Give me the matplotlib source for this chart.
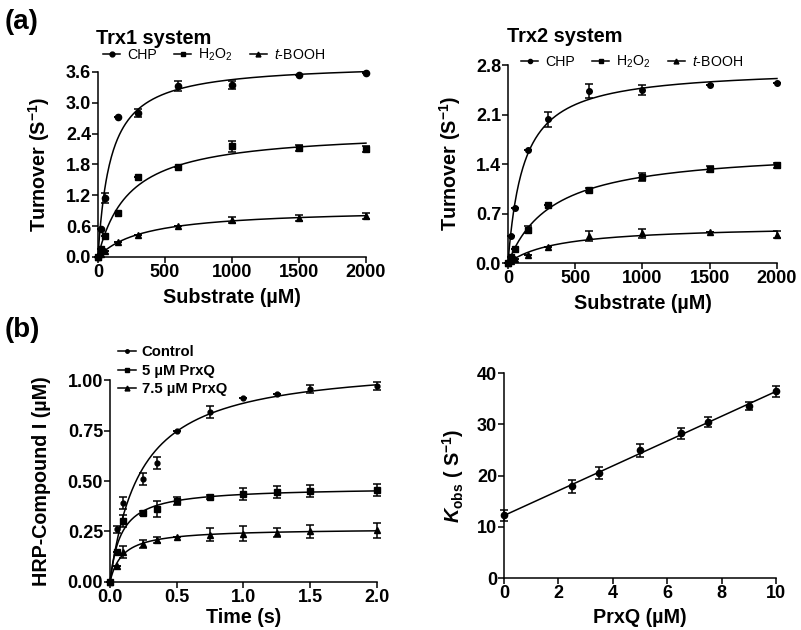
import numpy as np
import matplotlib
matplotlib.use("Agg")
import matplotlib.pyplot as plt

plt.rcParams['font.family'] = ['Liberation Sans', 'DejaVu Sans']
plt.rcParams['mathtext.fontset'] = 'custom'
plt.rcParams['mathtext.rm'] = 'Liberation Sans'
plt.rcParams['mathtext.it'] = 'Liberation Sans:italic'
plt.rcParams['mathtext.bf'] = 'Liberation Sans:bold'
plt.rcParams['mathtext.bfit'] = 'Liberation Sans:bold:italic'

# ---------------- data ----------------
substrate = [0, 25, 50, 150, 300, 600, 1000, 1500, 2000]

trx1_chp = [0.0, 0.55, 1.15, 2.72, 2.80, 3.32, 3.35, 3.55, 3.57]
trx1_chp_err = [0, 0, 0.10, 0, 0.08, 0.10, 0.08, 0, 0]
trx1_h2o2 = [0.0, 0.15, 0.40, 0.85, 1.55, 1.75, 2.15, 2.12, 2.10]
trx1_h2o2_err = [0, 0, 0, 0, 0, 0, 0.10, 0.05, 0.05]
trx1_tbooh = [0.0, 0.06, 0.12, 0.30, 0.42, 0.60, 0.72, 0.76, 0.80]
trx1_tbooh_err = [0, 0, 0, 0, 0, 0, 0.05, 0.06, 0.06]

trx2_chp = [0.0, 0.38, 0.78, 1.60, 2.03, 2.43, 2.45, 2.52, 2.55]
trx2_chp_err = [0, 0, 0, 0, 0.10, 0.10, 0.07, 0, 0]
trx2_h2o2 = [0.0, 0.08, 0.20, 0.47, 0.82, 1.03, 1.22, 1.33, 1.38]
trx2_h2o2_err = [0, 0, 0, 0.05, 0, 0.03, 0.06, 0.04, 0.04]
trx2_tbooh = [0.0, 0.03, 0.05, 0.12, 0.22, 0.38, 0.42, 0.44, 0.40]
trx2_tbooh_err = [0, 0, 0, 0, 0, 0.07, 0.06, 0, 0.05]

time_s = [0, 0.05, 0.1, 0.25, 0.35, 0.5, 0.75, 1.0, 1.25, 1.5, 2.0]
control = [0.0, 0.26, 0.39, 0.51, 0.59, 0.75, 0.84, 0.91, 0.93, 0.955, 0.97]
control_err = [0, 0.015, 0.03, 0.03, 0.03, 0, 0.03, 0, 0, 0.02, 0.02]
prxq5 = [0.0, 0.15, 0.30, 0.34, 0.36, 0.40, 0.42, 0.435, 0.445, 0.45, 0.455]
prxq5_err = [0, 0, 0.03, 0.01, 0.04, 0.02, 0.01, 0.03, 0.03, 0.03, 0.03]
prxq75 = [0.0, 0.08, 0.15, 0.19, 0.21, 0.225, 0.235, 0.24, 0.245, 0.25, 0.255]
prxq75_err = [0, 0, 0.03, 0.02, 0.015, 0, 0.03, 0.035, 0.02, 0.03, 0.035]

prxq_conc = [0, 2.5, 3.5, 5, 6.5, 7.5, 9, 10]
kobs = [12.2, 17.9, 20.5, 24.9, 28.2, 30.4, 33.6, 36.4]
kobs_err = [1.0, 1.3, 1.1, 1.2, 1.0, 1.0, 0.8, 1.0]


def hyperbola_fit(x, y):
    x = np.asarray(x, float); y = np.asarray(y, float)
    best = None
    for K in np.linspace(0.001 * x.max(), 2 * x.max(), 4000):
        f = x / (K + x)
        V = np.dot(f, y) / np.dot(f, f)
        r = np.sum((y - V * f) ** 2)
        if best is None or r < best[0]:
            best = (r, V, K)
    return best[1], best[2]


fig = plt.figure(figsize=(8.01, 6.30), dpi=100)

TICK_FS = 13
LAB_FS = 14.2
LW = 1.1


def style(ax):
    for s in ['top', 'right']:
        ax.spines[s].set_visible(False)
    for s in ['left', 'bottom']:
        ax.spines[s].set_linewidth(LW)
    ax.tick_params(direction='out', length=4, width=LW, labelsize=TICK_FS, pad=1)
    for lab in ax.get_xticklabels() + ax.get_yticklabels():
        lab.set_fontweight('bold')


def plot_series(ax, x, y, err, marker, ms, label, fit=True):
    xs = np.linspace(0, max(x), 400)
    if fit:
        V, K = hyperbola_fit(x, y)
        ax.plot(xs, V * xs / (K + xs), color='black', lw=LW, clip_on=False)
    ax.errorbar(x, y, yerr=err, fmt=marker, color='black', ms=ms, capsize=3,
                elinewidth=LW, capthick=LW, clip_on=False, zorder=3)
    ax.plot([], [], marker=marker, color='black', ms=ms - 1, lw=LW, label=label)


markers = [('o', 4.5), ('s', 4.5), ('^', 4.5)]

# ---------- panel a1 ----------
ax1 = fig.add_axes([0.1223, 0.5921, 0.3346, 0.2937])
for (y, e, lab), (m, ms) in zip([(trx1_chp, trx1_chp_err, 'CHP'),
                                  (trx1_h2o2, trx1_h2o2_err, r'H$_2$O$_2$'),
                                  (trx1_tbooh, trx1_tbooh_err, r'$t$-BOOH')], markers):
    plot_series(ax1, substrate, y, e, m, ms, lab)
ax1.set_xlim(0, 2000)
ax1.set_ylim(0, 3.6)
ax1.set_xticks([0, 500, 1000, 1500, 2000])
ax1.set_yticks([0.0, 0.6, 1.2, 1.8, 2.4, 3.0, 3.6])
ax1.set_yticklabels(['0.0', '0.6', '1.2', '1.8', '2.4', '3.0', '3.6'])
ax1.set_xlabel('Substrate (µM)', fontsize=LAB_FS, fontweight='bold', labelpad=5)
ax1.set_ylabel(r'Turnover (S$^{\mathbf{-1}}$)', fontsize=LAB_FS, fontweight='bold', labelpad=10)
style(ax1)
ax1.legend(loc='center left', bbox_to_anchor=(0.02, 1.09), ncol=3, frameon=False,
           fontsize=10.2, handlelength=1.2, handletextpad=0.5, columnspacing=1.2,
           borderpad=0, borderaxespad=0)
fig.text(96 / 801, 1 - 38 / 630, 'Trx1 system', fontsize=14.4, fontweight='bold', va='center', ha='left')

# ---------- panel a2 ----------
ax2 = fig.add_axes([0.6342, 0.5825, 0.3358, 0.3143])
for (y, e, lab), (m, ms) in zip([(trx2_chp, trx2_chp_err, 'CHP'),
                                  (trx2_h2o2, trx2_h2o2_err, r'H$_2$O$_2$'),
                                  (trx2_tbooh, trx2_tbooh_err, r'$t$-BOOH')], markers):
    plot_series(ax2, substrate, y, e, m, 4 if m == 'o' else ms, lab)
ax2.set_xlim(0, 2000)
ax2.set_ylim(0, 2.8)
ax2.set_xticks([0, 500, 1000, 1500, 2000])
ax2.set_yticks([0.0, 0.7, 1.4, 2.1, 2.8])
ax2.set_yticklabels(['0.0', '0.7', '1.4', '2.1', '2.8'])
ax2.set_xlabel('Substrate (µM)', fontsize=LAB_FS, fontweight='bold', labelpad=5)
ax2.set_ylabel(r'Turnover (S$^{\mathbf{-1}}$)', fontsize=LAB_FS, fontweight='bold', labelpad=9)
style(ax2)
ax2.legend(loc='center left', bbox_to_anchor=(0.05, 1.015), ncol=3, frameon=False,
           fontsize=10.2, handlelength=1.2, handletextpad=0.5, columnspacing=1.2,
           borderpad=0, borderaxespad=0)
fig.text(507 / 801, 1 - 37 / 630, 'Trx2 system', fontsize=14.4, fontweight='bold', va='center', ha='left')

# ---------- panel b1 ----------
ax3 = fig.add_axes([0.1373, 0.0762, 0.3333, 0.3206])
for (y, e, lab), (m, ms) in zip([(control, control_err, 'Control'),
                                  (prxq5, prxq5_err, '5 µM PrxQ'),
                                  (prxq75, prxq75_err, '7.5 µM PrxQ')], markers):
    plot_series(ax3, time_s, y, e, m, 3.5 if m == 'o' else ms, lab)
ax3.set_xlim(0, 2.0)
ax3.set_ylim(0, 1.0)
ax3.set_xticks([0.0, 0.5, 1.0, 1.5, 2.0])
ax3.set_xticklabels(['0.0', '0.5', '1.0', '1.5', '2.0'])
ax3.set_yticks([0.0, 0.25, 0.5, 0.75, 1.0])
ax3.set_yticklabels(['0.00', '0.25', '0.50', '0.75', '1.00'])
ax3.set_xlabel('Time (s)', fontsize=LAB_FS, fontweight='bold', labelpad=1.5)
ax3.set_ylabel('HRP-Compound I (µM)', fontsize=LAB_FS, fontweight='bold', labelpad=12)
style(ax3)
ax3.legend(loc='center left', bbox_to_anchor=(0.03, 1.045), ncol=1, frameon=False,
           handlelength=1.2, handletextpad=0.4, labelspacing=0.3,
           borderpad=0, borderaxespad=0, prop={'weight': 'bold', 'size': 10.7})

# ---------- panel b2 ----------
ax4 = fig.add_axes([0.6292, 0.0825, 0.3396, 0.3254])
slope, intercept = np.polyfit(prxq_conc, kobs, 1)
xs = np.linspace(0, 10, 50)
ax4.plot(xs, slope * xs + intercept, color='black', lw=LW, clip_on=False)
ax4.errorbar(prxq_conc, kobs, yerr=kobs_err, fmt='o', color='black', ms=4.5, capsize=3,
             elinewidth=LW, capthick=LW, clip_on=False, zorder=3)
ax4.set_xlim(0, 10)
ax4.set_ylim(0, 40)
ax4.set_xticks([0, 2, 4, 6, 8, 10])
ax4.set_yticks([0, 10, 20, 30, 40])
ax4.set_xlabel('PrxQ (µM)', fontsize=LAB_FS, fontweight='bold', labelpad=4.5)
ax4.set_ylabel(r'$\mathbfit{K}_{\mathbf{obs}}$ ( S$^{\mathbf{-1}}$)', fontsize=LAB_FS,
               fontweight='bold', labelpad=8)
style(ax4)

fig.text(5 / 801, 1 - 22 / 630, '(a)', fontsize=20, fontweight='bold', va='center', ha='left')
fig.text(5 / 801, 1 - 330 / 630, '(b)', fontsize=20, fontweight='bold', va='center', ha='left')

fig.savefig('out.png', dpi=100)
